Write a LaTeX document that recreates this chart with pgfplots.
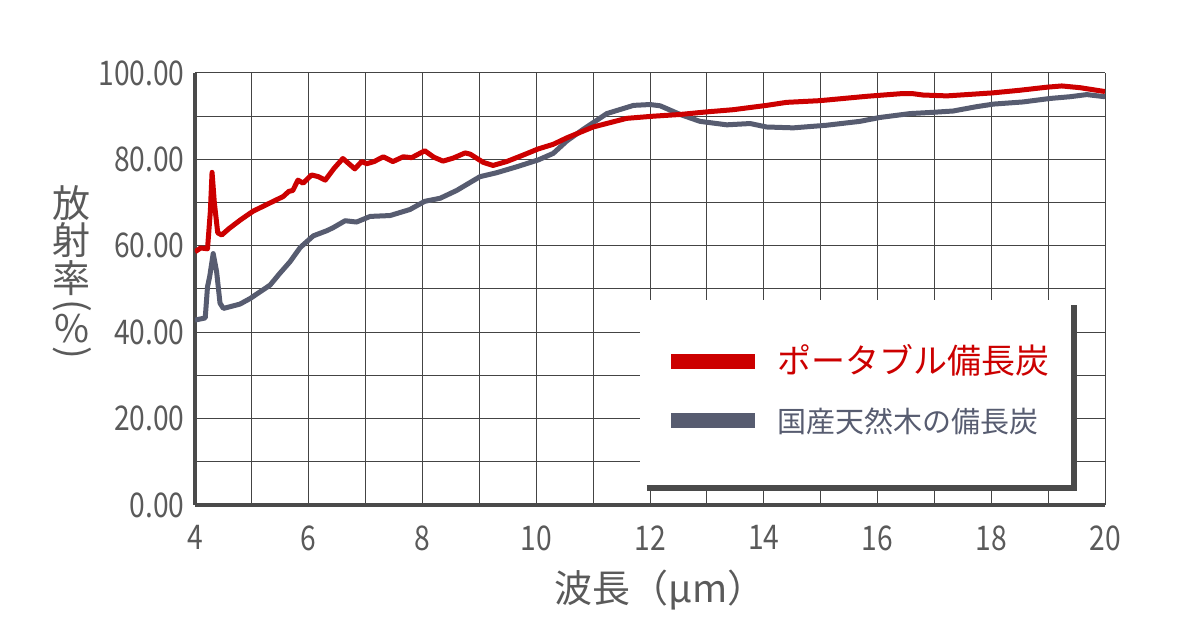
\documentclass[border=0pt]{standalone}
\usepackage{pgfplots}
\pgfplotsset{compat=1.18}
\usepackage{fontspec}
\setmainfont{Noto Sans CJK JP}
\newfontfamily\tickfont{Noto Sans CJK JP}[FakeStretch=0.83]
\definecolor{myred}{RGB}{204,0,0}
\definecolor{mygray}{RGB}{87,92,112}
\definecolor{gridc}{RGB}{68,68,68}
\definecolor{labc}{RGB}{90,90,90}
\definecolor{shadowc}{RGB}{74,74,74}

\pgfplotstableread{
x y
4.00 58.6
4.10 59.5
4.22 59.3
4.27 68.0
4.30 77.0
4.34 70.0
4.40 63.0
4.47 62.5
4.60 64.0
4.80 66.0
5.02 68.0
5.30 69.8
5.55 71.4
5.65 72.6
5.72 72.8
5.81 75.2
5.90 74.5
6.05 76.4
6.17 76.0
6.29 75.2
6.45 78.0
6.60 80.2
6.81 77.8
6.93 79.5
7.02 79.0
7.15 79.5
7.31 80.6
7.48 79.5
7.66 80.6
7.81 80.4
8.04 82.0
8.20 80.5
8.36 79.6
8.54 80.3
8.75 81.5
8.84 81.2
9.07 79.3
9.24 78.6
9.48 79.5
9.77 81.0
10.03 82.4
10.30 83.5
10.54 85.0
11.00 87.5
11.59 89.5
12.06 90.0
12.53 90.4
13.00 91.0
13.46 91.5
14.05 92.5
14.40 93.2
14.99 93.6
15.81 94.6
16.40 95.2
16.63 95.2
16.80 94.9
17.22 94.7
17.57 95.0
18.03 95.4
18.50 96.0
18.97 96.7
19.24 97.0
19.56 96.6
20.00 95.7
}\portable

\pgfplotstableread{
x y
4.00 42.8
4.18 43.3
4.22 50.5
4.26 53.0
4.32 58.2
4.38 54.0
4.44 46.7
4.50 45.5
4.79 46.5
4.97 47.8
5.32 50.9
5.49 53.6
5.67 56.3
5.85 59.6
6.08 62.3
6.32 63.5
6.43 64.2
6.64 65.8
6.84 65.5
7.08 66.8
7.43 67.0
7.78 68.4
8.04 70.3
8.31 71.0
8.60 72.8
9.01 76.0
9.30 76.9
9.66 78.3
10.04 79.9
10.30 81.4
10.54 84.3
10.83 87.0
11.24 90.6
11.71 92.5
12.00 92.7
12.18 92.4
12.53 90.4
12.88 88.8
13.35 88.0
13.76 88.3
14.05 87.5
14.52 87.3
15.10 87.9
15.69 88.8
16.04 89.7
16.57 90.6
16.98 90.9
17.33 91.2
17.74 92.2
18.04 92.8
18.56 93.3
19.03 94.1
19.38 94.5
19.68 95.0
20.00 94.5
}\natural

\begin{document}
\begin{tikzpicture}[x=1pt,y=1pt]
\path[use as bounding box] (-97.5,-65) rectangle (502.5,252.5);
\begin{axis}[
  at={(0,0)}, anchor=south west,
  scale only axis, width=455pt, height=216pt,
  xmin=4, xmax=20, ymin=0, ymax=100,
  xtick={4,6,...,20}, minor xtick={5,7,...,19},
  ytick={0,20,...,100}, minor ytick={10,30,...,90},
  grid=both,
  major grid style={gridc, line width=0.5pt},
  minor grid style={gridc, line width=0.5pt},
  major tick length=0pt, minor tick length=0pt,
  axis x line*=bottom, axis y line*=left,
  axis line style={shadowc, line width=2pt},
  /pgf/number format/assume math mode=true,
  yticklabel={\pgfmathprintnumber[fixed,fixed zerofill,precision=2]{\tick}},
  xticklabel={\pgfmathprintnumber{\tick}},
  tick label style={font=\tickfont\fontsize{17}{18}\selectfont, text=labc},
  yticklabel style={inner sep=0pt, xshift=-5pt},
  xticklabel style={inner sep=0pt, yshift=-10pt},
  xlabel={波長（μm）},
  xlabel style={at={(axis description cs:0.5,-0.197)}, anchor=center, xshift=5pt, font=\fontsize{19}{20}\selectfont, text=labc},
  reverse legend,
  legend cell align=left,
  legend image code/.code={\draw[line width=7.5pt] (0pt,1.5pt) -- (42pt,1.5pt);},
  legend style={at={(axis description cs:0.5153,0.359)}, anchor=north west,
    draw=none, fill=none, inner sep=0pt, outer sep=0pt, row sep=14.5pt,
    nodes={inner sep=0pt, text height=12pt, text depth=3pt},
    /tikz/every odd column/.style={column sep=7.5pt}},
]
\fill[white] (axis cs:11.824,4.17) rectangle (axis cs:19.437,47.45);
\addplot[mygray, line width=2.5pt, line join=round] table[x=x,y=y] {\natural};
\addlegendentry{\textcolor{mygray}{\fontsize{14.5}{15}\selectfont 国産天然木の備長炭}}
\addplot[myred, line width=2.5pt, line join=round] table[x=x,y=y] {\portable};
\addlegendentry{\textcolor{myred}{\fontsize{17}{17}\selectfont ポータブル備長炭}}
\draw[shadowc, line width=3pt] (axis cs:11.947,3.94) -- (axis cs:19.455,3.94) -- (axis cs:19.455,46.3);
\end{axis}
\begin{scope}[every node/.style={text=labc, font=\fontsize{19}{20}\selectfont, inner sep=0pt}]
\node at (-61.5,151) {放};
\node at (-61.5,132.5) {射};
\node at (-61.5,113.5) {率};
\node[rotate=-90] at (-61.5,99.5) {(};
\node at (-61.5,88) {\%};
\node[rotate=-90] at (-61.5,76) {)};
\end{scope}
\end{tikzpicture}
\end{document}
